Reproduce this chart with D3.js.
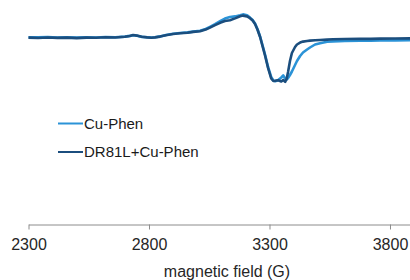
<!DOCTYPE html>
<html>
<head>
<meta charset="utf-8">
<script src="https://cdn.jsdelivr.net/npm/d3@7"></script>
<style>
  body { margin: 0; background: #fff; }
  svg { display: block; font-family: "Liberation Sans", Arial, sans-serif; }
</style>
</head>
<body>
<script>
// EPR spectra, field in gauss, derivative signal in arbitrary units
const field = [2300,2340,2380,2420,2460,2500,2540,2580,2620,2660,
  2700,2720,2734,2750,2770,2792,2810,2825,2846,2870,
  2900,2929,2960,2983,3012,3035,3053,3074,3095,3115,
  3136,3157,3178,3190,3207,3219,3230,3240,3250,3261,
  3272,3282,3294,3307,3316,3324,3336,3349,3357,3365,
  3371,3377,3385,3393,3406,3414,3427,3439,3456,3468,
  3489,3510,3539,3564,3613,3676,3720,3759,3821,3883];

const cuPhen = [2.8,2.6,3.0,2.5,2.7,2.4,2.8,2.5,3.0,2.7,
  3.4,4.1,4.8,4.2,3.1,2.8,2.5,2.8,3.6,5.0,
  6.2,7.0,7.6,8.4,9.2,11.0,13.2,15.8,18.8,21.4,
  23.0,23.6,24.8,25.6,24.8,22.4,20.0,16.5,11.0,3.5,
  -6.0,-15.0,-27.0,-37.0,-40.5,-41.2,-40.0,-37.5,-35.5,-38.5,
  -39.5,-38.0,-35.0,-31.5,-25.0,-21.0,-16.0,-12.5,-9.5,-7.5,
  -4.5,-3.2,-1.8,-1.4,-1.0,-0.7,-0.6,-0.5,-0.4,-0.3];

const dr81l = [2.4,2.0,2.5,2.1,2.4,1.9,2.4,2.2,2.7,2.5,
  3.2,4.0,5.0,4.4,3.2,2.6,2.3,2.6,3.4,4.8,
  6.0,6.7,7.2,8.1,8.8,10.4,12.4,14.8,17.2,19.0,
  19.8,21.6,23.8,24.4,23.6,21.8,19.5,16.0,10.5,3.0,
  -7.0,-16.0,-28.0,-38.5,-41.0,-40.8,-40.2,-41.5,-40.0,-41.8,
  -39.0,-32.0,-21.0,-13.0,-7.0,-4.5,-2.6,-1.6,-1.0,-0.6,
  -0.2,0.0,0.4,0.7,1.0,1.2,1.1,1.4,1.5,1.6];

const seriesNames = ["Cu-Phen", "DR81L+Cu-Phen"];
const seriesColors = ["#2b93d7", "#1b4e7e"];
const xTicks = [2300, 2800, 3300, 3800];

const width = 410, height = 280;

const svg = d3.select("body").append("svg")
  .attr("width", width)
  .attr("height", height);

let x = d3.scaleLinear()
  .domain([2300, 3883])
  .range([28.5, 410]);

let y = d3.scaleLinear()
  .domain([-45, 30])
  .range([85, 10]);

// axe du bas
const axisY = 224.5;
const ax = svg.append("g")
  .attr("transform", "translate(0," + axisY + ")")
  .call(d3.axisBottom(x).tickValues(xTicks).tickSize(5).tickSizeOuter(0).tickPadding(9).tickFormat(d3.format("d")));
ax.select(".domain").attr("stroke", "#8c8c8c");
ax.selectAll(".tick line").attr("stroke", "#8c8c8c");
ax.selectAll(".tick text")
  .attr("fill", "#262626")
  .style("font-size", "16px")
  .style("font-family", "'Liberation Sans', Arial, sans-serif");

svg.append("text")
  .text("magnetic field (G)")
  .attr("x", 227)
  .attr("y", 277)
  .attr("text-anchor", "middle")
  .attr("fill", "#262626")
  .style("font-size", "16px");

// courbes
const line = d3.line()
  .x(d => x(d[0]))
  .y(d => y(d[1]));

[cuPhen, dr81l].forEach((vals, i) => {
  svg.append("path")
    .datum(field.map((f, j) => [f, vals[j]]))
    .attr("d", line)
    .attr("fill", "none")
    .attr("stroke", seriesColors[i])
    .attr("stroke-width", 2.6)
    .attr("stroke-linejoin", "round");
});

// légende
const legend = svg.append("g");
seriesNames.forEach((name, i) => {
  const ly = 123.5 + i * 28.5;
  legend.append("line")
    .attr("x1", 58).attr("x2", 83)
    .attr("y1", ly).attr("y2", ly)
    .attr("stroke", seriesColors[i])
    .attr("stroke-width", 2);
  legend.append("text")
    .text(name)
    .attr("x", 84)
    .attr("y", ly + 5)
    .attr("fill", "#1a1a1a")
    .style("font-size", "15px");
});
</script>
</body>
</html>
